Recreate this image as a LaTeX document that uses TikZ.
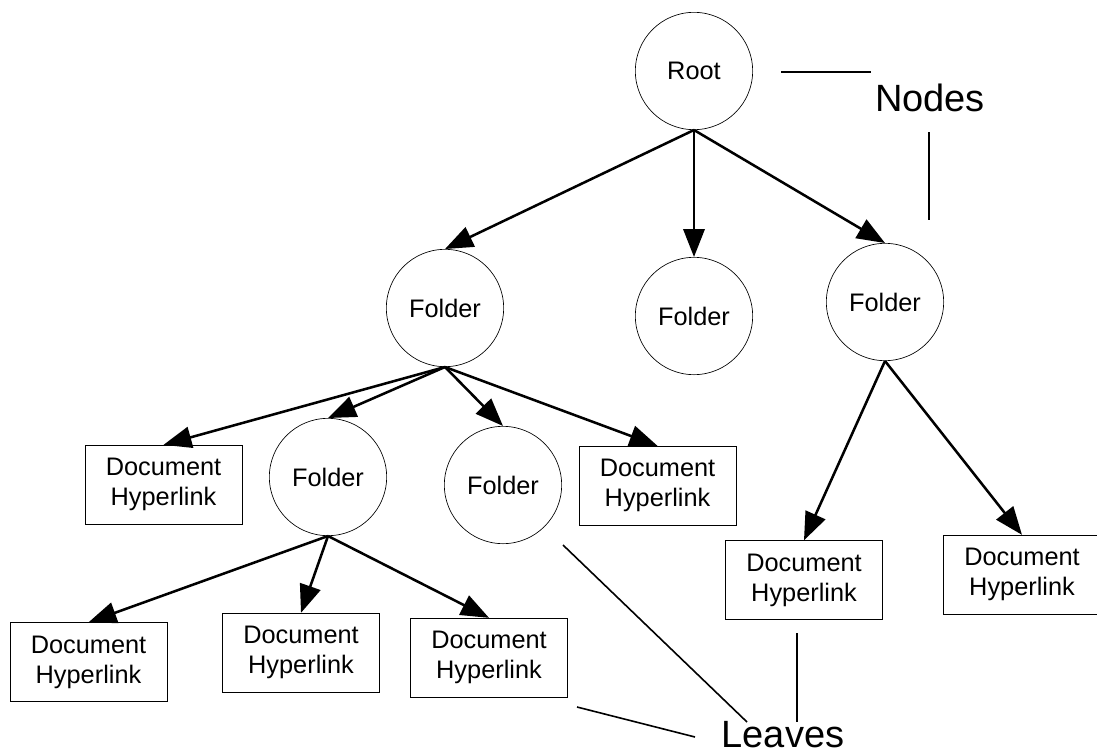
\documentclass[tikz,border=0pt]{standalone}
\usepackage{fontspec}
\setmainfont{Liberation Sans}
\usetikzlibrary{arrows.meta}

\tikzset{every picture/.style={line width=0.75pt}}
\tikzset{
	folder/.style={draw, circle, line width=0.5pt, minimum size=88pt, inner sep=0pt, font=\fontsize{19}{22}\selectfont},
	doclink/.style={draw, rectangle, line width=0.5pt, minimum width=118pt, minimum height=59pt, inner sep=0pt, align=center, font=\fontsize{19}{22.5}\selectfont},
	treearrow/.style={line width=1.9pt, -{Triangle[length=21pt,width=16pt]}},
	callout/.style={line width=1.2pt},
	bigtag/.style={font=\fontsize{28.5}{32}\selectfont, inner sep=0pt, anchor=base}
}

\begin{document}
\begin{tikzpicture}[x=0.75pt,y=0.75pt,yscale=-1,xscale=1]
	\useasboundingbox (0,0) rectangle (1097,754);

	% Circles
	\node [folder] (root) at (694,71) {Root};
	\node [folder] (fleft) at (445,308) {Folder};
	\node [folder] (fmid) at (694,316) {Folder};
	\node [folder] (fright) at (885,302) {Folder};
	\node [folder] (fsub) at (328,477) {Folder};
	\node [folder] (fsubtwo) at (503,485) {Folder};

	% Boxes
	\node [doclink] (docA) at (163.5,484.5) {Document\\Hyperlink};
	\node [doclink] (docB) at (657.5,485.5) {Document\\Hyperlink};
	\node [doclink] (docC) at (88.5,662) {Document\\Hyperlink};
	\node [doclink] (docD) at (301,652.5) {Document\\Hyperlink};
	\node [doclink] (docE) at (489,657.5) {Document\\Hyperlink};
	\node [doclink] (docF) at (804,580) {Document\\Hyperlink};
	\node [doclink] (docG) at (1022,574.5) {Document\\Hyperlink};

	% Arrows
	\draw [treearrow] (root.south) -- (fleft.north);
	\draw [treearrow] (root.south) -- (fmid.north);
	\draw [treearrow] (root.south) -- (fright.north);
	\draw [treearrow] (fleft.south) -- (docA.north);
	\draw [treearrow] (fleft.south) -- (fsub.north);
	\draw [treearrow] (fleft.south) -- (fsubtwo.north);
	\draw [treearrow] (fleft.south) -- (docB.north);
	\draw [treearrow] (fsub.south) -- (docC.north);
	\draw [treearrow] (fsub.south) -- (docD.north);
	\draw [treearrow] (fsub.south) -- (docE.north);
	\draw [treearrow] (fright.south) -- (docF.north);
	\draw [treearrow] (fright.south) -- (docG.north);

	% Labels
	\node [bigtag] (nodestag) at (930,111) {Nodes};
	\node [bigtag] (leavestag) at (783,747) {Leaves};

	% Label lines
	\coordinate (nA) at (781,72);
	\coordinate (nB) at (871,72);
	\coordinate (nC) at (929,132);
	\coordinate (nD) at (929,220);
	\coordinate (lA) at (563,545);
	\coordinate (lB) at (747,722);
	\coordinate (lC) at (797,633);
	\coordinate (lD) at (797,722);
	\coordinate (lE) at (577,707);
	\coordinate (lF) at (695,737);
	\draw [callout] (nA) -- (nB);
	\draw [callout] (nC) -- (nD);
	\draw [callout] (lA) -- (lB);
	\draw [callout] (lC) -- (lD);
	\draw [callout] (lE) -- (lF);

\end{tikzpicture}
\end{document}
